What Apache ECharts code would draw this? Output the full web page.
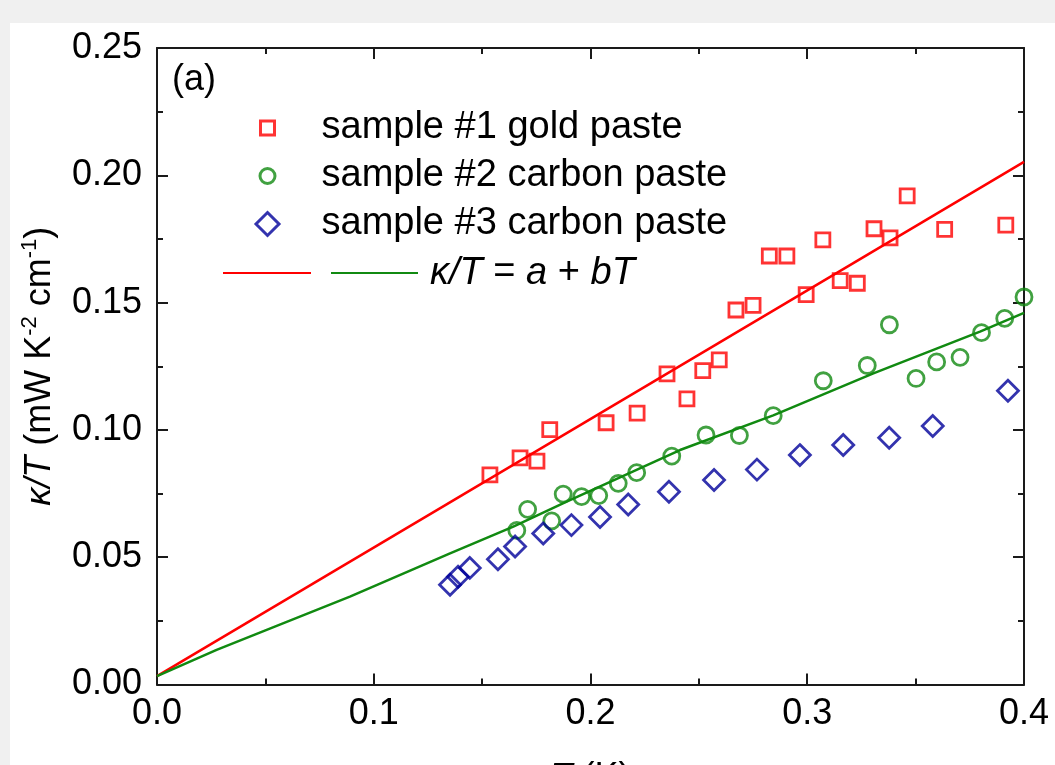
<!DOCTYPE html>
<html><head><meta charset="utf-8">
<script src="https://cdn.jsdelivr.net/npm/echarts@6/dist/echarts.min.js"></script>
<style>
html,body{margin:0;padding:0;background:#f0f0f0;}
#wrap{position:relative;width:1055px;height:765px;background:#f0f0f0;overflow:hidden}
#panel{position:absolute;left:10px;top:23px;right:0;bottom:0;background:#fff}
#chart{position:absolute;left:0;top:0;width:1055px;height:765px}
</style></head><body>
<div id="wrap"><div id="panel"></div><div id="chart"></div></div>
<script>
// ---- data ----
const seriesNames = ['sample #1 gold paste', 'sample #2 carbon paste', 'sample #3 carbon paste'];
const fitNames = ['fit #1', 'κ/T = a + bT'];
const xTickLabels = ['0.0', '0.1', '0.2', '0.3', '0.4'];
const yTickLabels = ['0.00', '0.05', '0.10', '0.15', '0.20', '0.25'];

const sample1 = [
  [0.1536,0.0823],[0.1675,0.0890],[0.1753,0.0877],[0.1812,0.1001],[0.2072,0.1028],
  [0.2215,0.1066],[0.2353,0.1220],[0.2445,0.1122],[0.2518,0.1233],[0.2594,0.1275],
  [0.2671,0.1471],[0.2750,0.1489],[0.2825,0.1683],[0.2906,0.1683],[0.2995,0.1531],
  [0.3072,0.1746],[0.3152,0.1586],[0.3231,0.1576],[0.3308,0.1790],[0.3382,0.1754],
  [0.3461,0.1919],[0.3634,0.1788],[0.3916,0.1804]
];
const sample2 = [
  [0.1660,0.0605],[0.1710,0.0688],[0.1821,0.0643],[0.1874,0.0748],[0.1959,0.0738],
  [0.2038,0.0742],[0.2128,0.0790],[0.2213,0.0832],[0.2375,0.0897],[0.2533,0.0980],
  [0.2687,0.0978],[0.2843,0.1056],[0.3074,0.1193],[0.3277,0.1253],[0.3379,0.1413],
  [0.3502,0.1202],[0.3597,0.1267],[0.3705,0.1285],[0.3804,0.1382],[0.3911,0.1438],
  [0.4000,0.1522]
];
const sample3 = [
  [0.1352,0.0392],[0.1389,0.0423],[0.1443,0.0458],[0.1573,0.0492],[0.1652,0.0542],
  [0.1782,0.0593],[0.1912,0.0626],[0.2044,0.0658],[0.2174,0.0707],[0.2362,0.0757],
  [0.2570,0.0803],[0.2768,0.0844],[0.2966,0.0901],[0.3166,0.0941],[0.3378,0.0969],
  [0.3579,0.1015],[0.3926,0.1154]
];
const fit1 = [[0,0.0033],[0.4,0.2053]];
const fit2 = [
  [0,0.0033],[0.0275,0.0136],[0.089,0.0345],[0.1352,0.0515],[0.1644,0.0620],
  [0.189,0.0718],[0.2413,0.0921],[0.2843,0.1057],[0.3305,0.1222],[0.3797,0.1386],[0.4,0.1460]
];

// ---- style ----
const FONT = 'Liberation Sans, Arial, sans-serif';
const RED = '#ff0000', GREEN = '#118a11', BLUE = '#00009a', AX = '#1a1a1a';
const LEG_FS = 38;
const COLORS = [RED, GREEN, BLUE];

function xAxisCfg(pos, showLabel) {
  return {
    type: 'value', position: pos, min: 0, max: 0.4, interval: 0.1,
    axisLine: { show: true, onZero: false, lineStyle: { color: AX, width: 2 } },
    axisTick: { show: true, inside: true, length: 11, lineStyle: { color: AX, width: 2 } },
    minorTick: { show: true, splitNumber: 2, length: 6, lineStyle: { color: AX, width: 2 } },
    splitLine: { show: false },
    axisLabel: {
      show: showLabel, margin: 12, fontSize: 36, fontFamily: FONT, color: '#000',
      showMinLabel: true, showMaxLabel: true,
      formatter: (v, i) => xTickLabels[i]
    }
  };
}
function yAxisCfg(pos, showLabel) {
  return {
    type: 'value', position: pos, min: 0, max: 0.25, interval: 0.05,
    axisLine: { show: true, onZero: false, lineStyle: { color: AX, width: 2 } },
    axisTick: { show: true, inside: true, length: 11, lineStyle: { color: AX, width: 2 } },
    minorTick: { show: true, splitNumber: 2, length: 6, lineStyle: { color: AX, width: 2 } },
    splitLine: { show: false },
    axisLabel: {
      show: showLabel, margin: 15, fontSize: 36, fontFamily: FONT, color: '#000',
      showMinLabel: true, showMaxLabel: true,
      formatter: (v, i) => yTickLabels[i]
    }
  };
}

const xMain = xAxisCfg('bottom', true);
xMain.name = '{i|T} (K)';
xMain.nameLocation = 'middle';
xMain.nameGap = 76;
xMain.nameTextStyle = { fontSize: 36, fontFamily: FONT, color: '#000',
  rich: { i: { fontStyle: 'italic', fontSize: 36, fontFamily: FONT } } };

const yMain = yAxisCfg('left', true);
yMain.name = '{i|κ/T} (mW K{s|-2} cm{s|-1})';
yMain.nameLocation = 'middle';
yMain.nameGap = 77;
yMain.nameTextStyle = { fontSize: 36, fontFamily: FONT, color: '#000', lineHeight: 42,
  rich: {
    i: { fontStyle: 'italic', fontSize: 36, fontFamily: FONT, lineHeight: 42 },
    s: { fontSize: 22, fontFamily: FONT, verticalAlign: 'top', lineHeight: 26 }
  } };

const legendText = { fontSize: LEG_FS, fontFamily: FONT, color: '#000', lineHeight: 44 };
// symbol centred at x=266, text starting at x=320
function scatterLegend(idx, centerY, h) {
  const left = 266 - h / 2;
  const textStart = left + h + 5;
  return {
    data: [seriesNames[idx]], orient: 'vertical', left: left, top: centerY - 22, padding: 0,
    itemWidth: h, itemHeight: h, selectedMode: false,
    itemStyle: { color: 'rgba(0,0,0,0)', borderColor: COLORS[idx], borderWidth: 3 },
    textStyle: Object.assign({}, legendText, { padding: [0, 0, 0, 320 - textStart] })
  };
}

const chart = echarts.init(document.getElementById('chart'), null, { renderer: 'canvas' });
chart.setOption({
  backgroundColor: 'transparent',
  animation: false,
  grid: { left: 157, right: 31, top: 48, bottom: 80.5, containLabel: false, outerBoundsMode: 'none' },
  xAxis: [xMain, xAxisCfg('top', false)],
  yAxis: [yMain, yAxisCfg('right', false)],
  legend: [
    scatterLegend(0, 128, 14),
    scatterLegend(1, 176, 15),
    scatterLegend(2, 224, 23),
    { data: [fitNames[0]], left: 222, top: 266, padding: 0, itemWidth: 88, itemHeight: 14,
      formatter: () => '', textStyle: { fontSize: 1 }, selectedMode: false,
      itemStyle: { opacity: 0 } },
    { data: [fitNames[1]], left: 330, top: 251, padding: 0, itemWidth: 87, itemHeight: 14,
      selectedMode: false, itemStyle: { opacity: 0 },
      formatter: () => '{i|κ/T} = {i|a} + {i|bT}',
      textStyle: Object.assign({}, legendText, { padding: [0, 0, 0, 7],
        rich: { i: { fontStyle: 'italic', fontSize: LEG_FS, fontFamily: FONT, lineHeight: 44 } } }) }
  ],
  graphic: [
    { type: 'text', left: 172, top: 62, silent: true,
      style: { text: '(a)', font: '36px ' + FONT, fill: '#000' } }
  ],
  series: [
    { name: fitNames[0], type: 'line', data: fit1, symbol: 'none', z: 2,
      lineStyle: { color: RED, width: 2.5 }, itemStyle: { color: RED } },
    { name: fitNames[1], type: 'line', data: fit2, symbol: 'none', z: 2,
      lineStyle: { color: GREEN, width: 2.5 }, itemStyle: { color: GREEN } },
    { name: seriesNames[0], type: 'scatter', data: sample1, symbol: 'rect', symbolSize: 14, z: 3,
      itemStyle: { color: 'rgba(0,0,0,0)', borderColor: RED, borderWidth: 2.8 } },
    { name: seriesNames[1], type: 'scatter', data: sample2, symbol: 'circle', symbolSize: 16, z: 3,
      itemStyle: { color: 'rgba(0,0,0,0)', borderColor: GREEN, borderWidth: 2.8 } },
    { name: seriesNames[2], type: 'scatter', data: sample3, symbol: 'diamond', symbolSize: 21, z: 3,
      itemStyle: { color: 'rgba(0,0,0,0)', borderColor: BLUE, borderWidth: 2.8 } }
  ]
});
</script>
</body></html>
